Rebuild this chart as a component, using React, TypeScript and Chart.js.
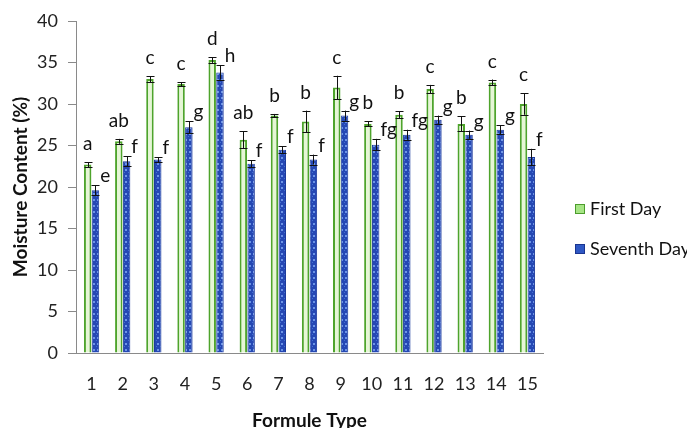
import React, { useEffect, useRef } from "react";
import { Chart, registerables } from "chart.js";

Chart.register(...registerables);

const categories = ["1", "2", "3", "4", "5", "6", "7", "8", "9", "10", "11", "12", "13", "14", "15"];
const firstDay = [22.7, 25.5, 33.0, 32.4, 35.3, 25.7, 28.6, 27.9, 32.0, 27.6, 28.7, 31.8, 27.6, 32.6, 30.0];
const firstDayErr = [0.3, 0.3, 0.35, 0.25, 0.35, 1.0, 0.2, 1.3, 1.4, 0.3, 0.4, 0.5, 0.9, 0.35, 1.3];
const firstDayLetters = ["a", "ab", "c", "c", "d", "ab", "b", "b", "c", "b", "b", "c", "b", "c", "c"];
const seventhDay = [19.6, 23.1, 23.3, 27.2, 33.8, 22.8, 24.5, 23.3, 28.6, 25.1, 26.3, 28.1, 26.3, 26.9, 23.6];
const seventhDayErr = [0.6, 0.6, 0.3, 0.7, 0.85, 0.4, 0.4, 0.6, 0.6, 0.7, 0.6, 0.5, 0.5, 0.55, 1.0];
const seventhDayLetters = ["e", "f", "f", "g", "h", "f", "f", "f", "g", "fg", "fg", "g", "g", "g", "f"];
const seriesNames = ["First Day", "Seventh Day"];
const yTicks = { min: 0, max: 40, step: 5 };

const FONT = "Lato, 'Open Sans', sans-serif";

function makeBluePattern(): CanvasPattern | string {
  const c = document.createElement("canvas");
  c.width = 4;
  c.height = 6;
  const g = c.getContext("2d");
  if (!g) return "#2a4fb8";
  g.fillStyle = "#2548b4";
  g.fillRect(0, 0, 4, 6);
  g.fillStyle = "#6d95e6";
  g.fillRect(1, 1, 2, 2);
  g.fillStyle = "#4270d0";
  g.fillRect(0, 4, 1, 1);
  const p = g.createPattern(c, "repeat");
  return p || "#2a4fb8";
}

const errLetterPlugin = {
  id: "errLetters",
  afterDatasetsDraw(chart: any) {
    const ctx = chart.ctx;
    const yScale = chart.scales.y;
    const errs = [firstDayErr, seventhDayErr];
    const vals = [firstDay, seventhDay];
    const letters = [firstDayLetters, seventhDayLetters];
    ctx.save();
    for (let d = 0; d < 2; d++) {
      const meta = chart.getDatasetMeta(d);
      meta.data.forEach((el: any, i: number) => {
        const v = vals[d][i];
        const e = errs[d][i];
        const yt = yScale.getPixelForValue(v + e);
        const yb = yScale.getPixelForValue(v - e);
        const x = Math.round(el.x) + 0.5;
        ctx.strokeStyle = "#111";
        ctx.lineWidth = 1;
        ctx.beginPath();
        ctx.moveTo(x, yt);
        ctx.lineTo(x, yb);
        ctx.moveTo(x - 4, Math.round(yt) + 0.5);
        ctx.lineTo(x + 4, Math.round(yt) + 0.5);
        ctx.moveTo(x - 4, Math.round(yb) + 0.5);
        ctx.lineTo(x + 4, Math.round(yb) + 0.5);
        ctx.stroke();
        ctx.fillStyle = "#111";
        ctx.font = `19px ${FONT}`;
        ctx.textBaseline = "alphabetic";
        if (d === 0) {
          ctx.textAlign = "center";
          ctx.fillText(letters[d][i], el.x, yt - 12);
        } else {
          ctx.textAlign = "left";
          ctx.fillText(letters[d][i], el.x + el.width / 2 + 1, yt - 3);
        }
      });
    }
    ctx.restore();
  },
  afterDraw(chart: any) {
    const ctx = chart.ctx;
    ctx.save();
    const items = [
      { name: seriesNames[0], fill: "#a6e585", stroke: "#4c9c2c", y: 209 },
      { name: seriesNames[1], fill: "#2f58c4", stroke: "#1a3590", y: 249 },
    ];
    items.forEach((it) => {
      ctx.fillStyle = it.fill;
      ctx.fillRect(575, it.y - 5, 10, 10);
      ctx.strokeStyle = it.stroke;
      ctx.lineWidth = 1;
      ctx.strokeRect(575.5, it.y - 4.5, 9, 9);
      ctx.fillStyle = "#111";
      ctx.font = `18px ${FONT}`;
      ctx.textAlign = "left";
      ctx.textBaseline = "middle";
      ctx.fillText(it.name, 590, it.y);
    });
    ctx.restore();
  },
};

export default function App() {
  const ref = useRef<HTMLCanvasElement>(null);
  useEffect(() => {
    if (!ref.current) return;
    const chart = new Chart(ref.current, {
      type: "bar",
      data: {
        labels: categories,
        datasets: [
          {
            label: seriesNames[0],
            data: firstDay,
            backgroundColor: "#e6f6d6",
            borderColor: "#4ea42c",
            borderWidth: 2,
          },
          {
            label: seriesNames[1],
            data: seventhDay,
            backgroundColor: makeBluePattern() as any,
            borderColor: "#1c3a9c",
            borderWidth: 1,
          },
        ],
      },
      plugins: [errLetterPlugin],
      options: {
        responsive: false,
        animation: false,
        devicePixelRatio: 1,
        layout: { padding: { top: 21, right: 144, bottom: 0, left: 0 } },
        datasets: { bar: { categoryPercentage: 0.5, barPercentage: 0.96 } },
        plugins: { legend: { display: false }, tooltip: { enabled: false } },
        scales: {
          x: {
            grid: { display: false, drawTicks: false },
            border: { display: true, color: "#8a8a8a", width: 1 },
            ticks: { font: { family: FONT, size: 18 }, color: "#222", padding: 20 },
            title: {
              display: true,
              text: "Formule Type",
              font: { family: FONT, size: 19, weight: "bold" },
              color: "#111",
              padding: { top: 0, bottom: -4 },
            },
            afterFit(scale: any) {
              scale.height = 75;
            },
          },
          y: {
            min: yTicks.min,
            max: yTicks.max,
            ticks: { stepSize: yTicks.step, font: { family: FONT, size: 18 }, color: "#222", padding: 10 },
            grid: { drawOnChartArea: false, drawTicks: true, tickLength: 8, color: "#8a8a8a" },
            border: { display: true, color: "#8a8a8a", width: 1 },
            title: {
              display: true,
              text: "Moisture Content (%)",
              font: { family: FONT, size: 19, weight: "bold" },
              color: "#111",
              padding: { top: 9, bottom: 0 },
            },
            afterFit(scale: any) {
              scale.width = 76;
            },
          },
        },
      },
    });
    return () => chart.destroy();
  }, []);
  return (
    <div style={{ position: "absolute", left: 0, top: 0, width: 687, height: 428, background: "#fff" }}>
      <canvas ref={ref} width={687} height={428} style={{ display: "block" }} />
    </div>
  );
}
